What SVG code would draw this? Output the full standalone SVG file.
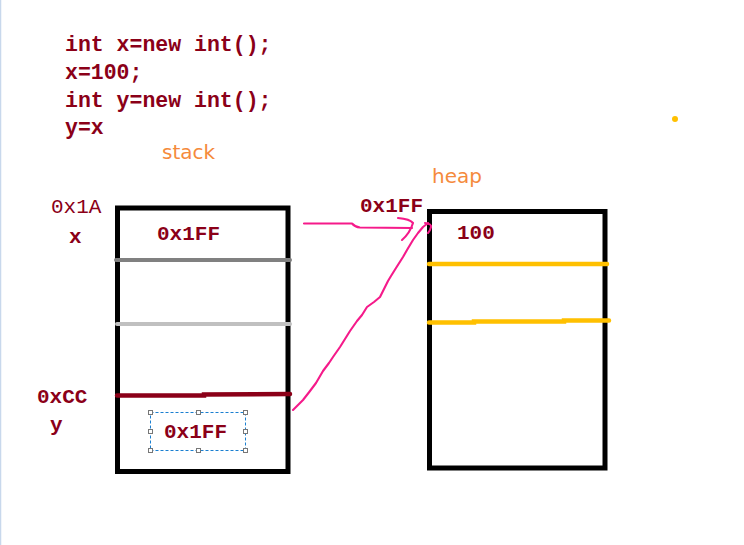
<svg xmlns="http://www.w3.org/2000/svg" width="744" height="545" viewBox="0 0 744 545">
<style>
.code{font-family:"Liberation Mono","DejaVu Sans Mono",monospace;font-weight:bold;font-size:21.5px;fill:#8b0018}
.lbl{font-family:"Liberation Mono","DejaVu Sans Mono",monospace;font-size:21px;fill:#8b0018}
.b{font-weight:bold}
.or{font-family:"DejaVu Sans","Noto Sans",sans-serif;font-size:20px;fill:#f58a3c}
.box{fill:none;stroke:#000;stroke-width:5}
.ink{fill:none;stroke:#f51a8a;stroke-width:2.1;stroke-linecap:round;stroke-linejoin:round}
.h{fill:#fff;stroke:#777;stroke-width:1}
</style>
<rect width="744" height="545" fill="#fff"/>
<line x1="0.5" y1="0" x2="0.5" y2="545" stroke="#c8d8ec" stroke-width="1.5"/>
<g id="code">
<text class="code" x="65" y="51">int x=new int();</text>
<text class="code" x="65" y="79">x=100;</text>
<text class="code" x="65" y="107">int y=new int();</text>
<text class="code" x="65" y="134">y=x</text>
</g>
<text class="or" x="162" y="159">stack</text>
<text class="or" x="432" y="183">heap</text>
<circle cx="675" cy="119" r="3" fill="#ffc000"/>
<g id="stack">
<rect class="box" x="117.5" y="208" width="170.5" height="263.5"/>
<line x1="116" y1="260" x2="290" y2="260" stroke="#808080" stroke-width="4" stroke-linecap="round"/>
<line x1="117" y1="324" x2="290" y2="324" stroke="#c0c0c0" stroke-width="4" stroke-linecap="round"/>
<path d="M117 395.5 L204 395.5 L204 394.5 L290 394" stroke="#8b0018" stroke-width="4.5" fill="none" stroke-linecap="round"/>
<text class="lbl b" x="157" y="240">0x1FF</text>
<text class="lbl" x="51" y="213">0x1A</text>
<text class="lbl b" x="69" y="243">x</text>
<text class="lbl b" x="37" y="403">0xCC</text>
<text class="lbl b" x="50" y="431">y</text>
</g>
<g id="selection">
<rect x="150.5" y="412.5" width="95" height="38" fill="none" stroke="#1a7fd0" stroke-width="1" stroke-dasharray="3,2"/>
<rect class="h" x="148.5" y="410.5" width="4" height="4"/>
<rect class="h" x="196.5" y="410.5" width="4" height="4"/>
<rect class="h" x="243.5" y="410.5" width="4" height="4"/>
<rect class="h" x="148.5" y="429.5" width="4" height="4"/>
<rect class="h" x="243.5" y="429.5" width="4" height="4"/>
<rect class="h" x="148.5" y="448.5" width="4" height="4"/>
<rect class="h" x="196.5" y="448.5" width="4" height="4"/>
<rect class="h" x="243.5" y="448.5" width="4" height="4"/>
<text class="lbl b" x="164" y="438">0x1FF</text>
</g>
<g id="heap">
<rect class="box" x="429.5" y="211.5" width="175.5" height="256.5"/>
<line x1="429" y1="264" x2="607" y2="264" stroke="#ffc000" stroke-width="4.5" stroke-linecap="round"/>
<path d="M429 322.5 L474 322.5 L474 321.5 L564 321.5 L564 320.5 L609 320.5" stroke="#ffc000" stroke-width="4.5" fill="none" stroke-linecap="round"/>
<text class="lbl b" x="457" y="239">100</text>
<text class="lbl b" x="360" y="212">0x1FF</text>
</g>
<g id="connectors">
<path class="ink" d="M304 223.5 L352 223.5 Q355 227 360 227.5 L412 228"/>
<path class="ink" d="M398 218 Q410 219 413 223 Q410 233 402 240"/>
<path class="ink" d="M425 223 Q432 224 431 227 Q430 231 428 233"/>
<path class="ink" d="M293 410 L299 404 L303 400 L310 391 L316 383 L323 371 L329 363 L333 357 L340 347 L345 339 L350 331 L357 321 L362 315 L367 307 L374 302 L380 297 L384 289 L388 281 L391 276 L396 268 L403 257 L407 250 L413 240 L418 233 L423 227 L428 223"/>
</g>
</svg>
